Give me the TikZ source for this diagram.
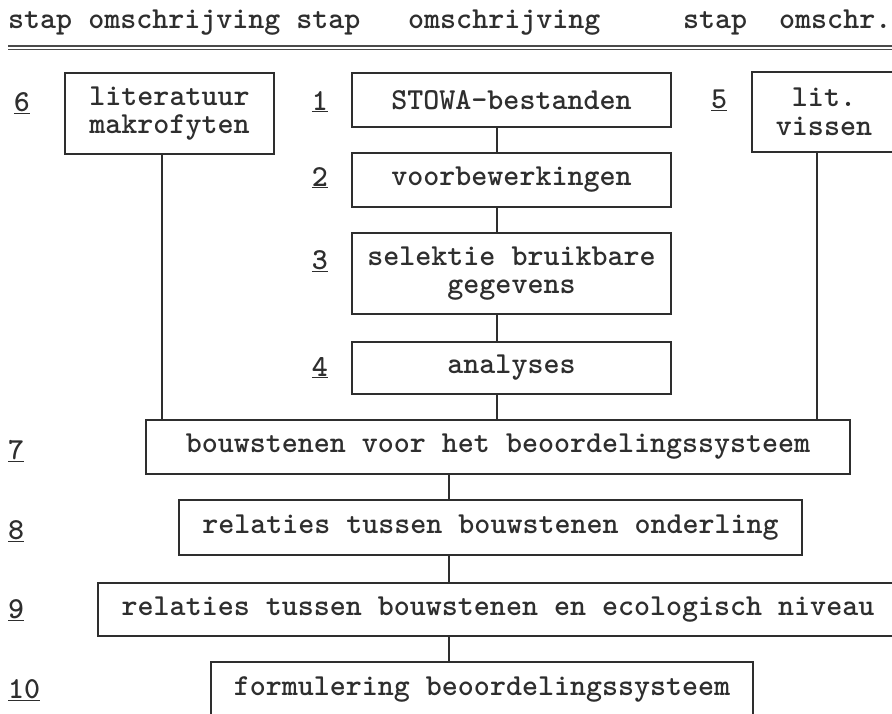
\documentclass[tikz,border=0pt]{standalone}
\usepackage{fontspec}
\definecolor{ink}{HTML}{2E2E2E}
\definecolor{rulegrey}{HTML}{4A4A4A}
% Courier-like typewriter face in its heavier cut
\newcommand\boxfont{\ttfamily\bfseries\fontsize{30.5}{28.5}\selectfont}
\newcommand\stepnr[1]{\underline{#1}}
\tikzset{
  box/.style={draw=ink, line width=1.6pt, inner sep=0pt, align=center,
              font=\boxfont, text=ink},
  num/.style={anchor=base, inner sep=0pt, font=\boxfont, text=ink},
  numleft/.style={num, anchor=base west},
  hdr/.style={anchor=base west, inner sep=0pt, font=\boxfont, text=ink},
  link/.style={draw=ink, line width=1.5pt},
}
\begin{document}
\begin{tikzpicture}[x=1pt, y=-1pt]
  \useasboundingbox (0,0) rectangle (892,713);
  \clip (0,0) rectangle (892,713);

  % column headings
  \node[hdr] (h1) at (8,28) {stap omschrijving stap};
  \node[hdr] (h2) at (408,28) {omschrijving};
  \node[hdr] (h3) at (683,28) {stap};
  \node[hdr] (h4) at (779,28) {omschr.};
  \coordinate (ruleL) at (8,46);
  \coordinate (ruleR) at (892,46);
  \draw[rulegrey, line width=2.8pt] (ruleL) -- (ruleR);
  \draw[rulegrey, line width=1.1pt] ([yshift=-3.6pt]ruleL) -- ([yshift=-3.6pt]ruleR);

  % process steps
  \node[box, minimum width=209, minimum height=81] (b6) at (169.5,113.5) {literatuur\\makrofyten};
  \node[box, minimum width=319, minimum height=54] (b1) at (511.5,100) {STOWA-bestanden};
  \node[box, minimum width=319, minimum height=54] (b2) at (511.5,180) {voorbewerkingen};
  \node[box, minimum width=319, minimum height=81] (b3) at (511.5,273.5) {selektie bruikbare\\gegevens};
  \node[box, minimum width=319, minimum height=52] (b4) at (511.5,368) {analyses};
  \node[box, minimum width=144, minimum height=80] (b5) at (824,112) {lit.\\vissen};
  \node[box, minimum width=704, minimum height=54] (b7) at (498,447) {bouwstenen voor het beoordelingssysteem};
  \node[box, minimum width=623, minimum height=55] (b8) at (490.5,527.5) {relaties tussen bouwstenen onderling};
  \node[box, minimum width=800, minimum height=53] (b9) at (498,609.5) {relaties tussen bouwstenen en ecologisch niveau};
  \node[box, minimum width=542, minimum height=54] (b10) at (482,689) {formulering beoordelingssysteem};

  % step numbers
  \node[num] (n6) at (22,111) {\stepnr{6}};
  \node[num] (n1) at (320,110) {\stepnr{1}};
  \node[num] (n2) at (320,186) {\stepnr{2}};
  \node[num] (n3) at (320,269) {\stepnr{3}};
  \node[num] (n4) at (320,376) {\stepnr{4}};
  \node[num] (n5) at (719,108) {\stepnr{5}};
  \node[numleft] (n7) at (8,459) {\stepnr{7}};
  \node[numleft] (n8) at (8,539) {\stepnr{8}};
  \node[numleft] (n9) at (8,618) {\stepnr{9}};
  \node[numleft] (n10) at (8,698) {\stepnr{10}};

  % connectors
  \coordinate (spineA) at (497,0);
  \coordinate (spineB) at (449,0);
  \coordinate (leftleg) at (162,0);
  \coordinate (rightleg) at (817,0);
  \draw[link] (b1.south -| spineA) -- (b2.north -| spineA);
  \draw[link] (b2.south -| spineA) -- (b3.north -| spineA);
  \draw[link] (b3.south -| spineA) -- (b4.north -| spineA);
  \draw[link] (b4.south -| spineA) -- (b7.north -| spineA);
  \draw[link] (b6.south -| leftleg) -- (b7.north -| leftleg);
  \draw[link] (b5.south -| rightleg) -- (b7.north -| rightleg);
  \draw[link] (b7.south -| spineB) -- (b8.north -| spineB);
  \draw[link] (b8.south -| spineB) -- (b9.north -| spineB);
  \draw[link] (b9.south -| spineB) -- (b10.north -| spineB);
\end{tikzpicture}
\end{document}
